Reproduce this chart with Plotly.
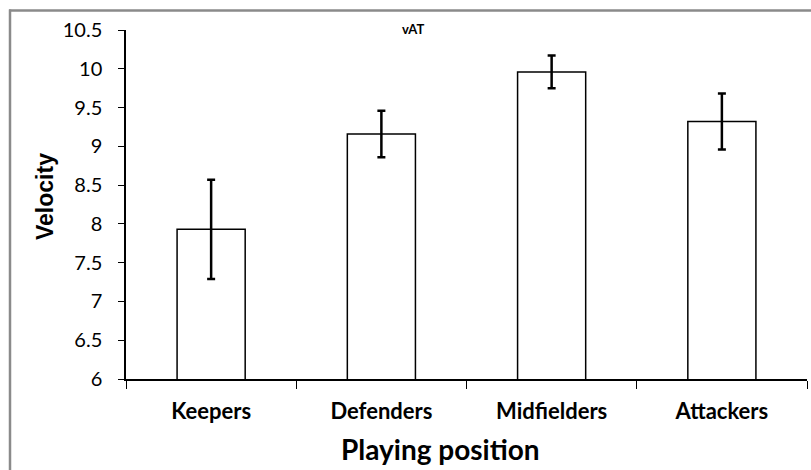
import plotly.graph_objects as go

categories = ["Keepers", "Defenders", "Midfielders", "Attackers"]
velocity = [7.93, 9.16, 9.96, 9.32]
error = [0.64, 0.30, 0.21, 0.36]
y_ticks = [6, 6.5, 7, 7.5, 8, 8.5, 9, 9.5, 10, 10.5]
y_tick_labels = ["6", "6.5", "7", "7.5", "8", "8.5", "9", "9.5", "10", "10.5"]

W, H = 811, 470
L, R, T, B = 126, 4, 30, 91
pw, ph = W - L - R, H - T - B

def px_x(px):
    return (px - L) / pw

def px_y(py):
    return (H - B - py) / ph

font_main = "Lato, 'Open Sans', sans-serif"
frame = dict(color="#8a8a8a", width=2.5)

fig = go.Figure()
fig.add_trace(go.Bar(
    x=categories, y=velocity,
    width=0.4,
    marker=dict(color="white", line=dict(color="black", width=1.5)),
    error_y=dict(type="data", array=error, visible=True,
                 color="black", thickness=2.5, width=4),
))

fig.update_layout(
    width=W, height=H,
    margin=dict(l=L, r=R, t=T, b=B),
    paper_bgcolor="white", plot_bgcolor="white",
    showlegend=False,
    xaxis=dict(
        type="category",
        showline=True, linecolor="black", linewidth=1.5,
        ticks="outside", tickson="boundaries", ticklen=8, tickcolor="black", tickwidth=1,
        ticklabelstandoff=12,
        tickfont=dict(family=font_main, size=22, color="black", weight="bold"),
        showgrid=False, zeroline=False,
    ),
    yaxis=dict(
        range=[6, 10.5],
        tickvals=y_ticks, ticktext=y_tick_labels,
        showline=True, linecolor="black", linewidth=1.5,
        ticks="outside", ticklen=6, tickcolor="black", tickwidth=1,
        ticklabelstandoff=12,
        tickfont=dict(family=font_main, size=20, color="black"),
        showgrid=False, zeroline=False,
    ),
    shapes=[
        dict(type="line", xref="paper", yref="paper",
             x0=px_x(9), x1=px_x(811), y0=px_y(10.5), y1=px_y(10.5),
             line=frame, layer="above"),
        dict(type="line", xref="paper", yref="paper",
             x0=px_x(10), x1=px_x(10), y0=px_y(9.5), y1=px_y(470),
             line=frame, layer="above"),
    ],
    annotations=[
        dict(text="<b>vAT</b>", xref="paper", yref="paper",
             x=px_x(413), y=px_y(29), showarrow=False,
             xanchor="center", yanchor="middle",
             font=dict(family=font_main, size=13, color="black")),
        dict(text="<b>Velocity</b>", xref="paper", yref="paper",
             x=px_x(45), y=px_y(197), showarrow=False, textangle=-90,
             xanchor="center", yanchor="middle",
             font=dict(family="'Liberation Sans', Arial, sans-serif", size=23, color="black")),
        dict(text="<b>Playing position</b>", xref="paper", yref="paper",
             x=px_x(440), y=px_y(449), showarrow=False,
             xanchor="center", yanchor="middle",
             font=dict(family=font_main, size=28, color="black")),
    ],
)

fig.write_html("out.html",
               config={"displayModeBar": False},
               post_script="document.body.style.margin='0';document.body.style.overflow='hidden';")
